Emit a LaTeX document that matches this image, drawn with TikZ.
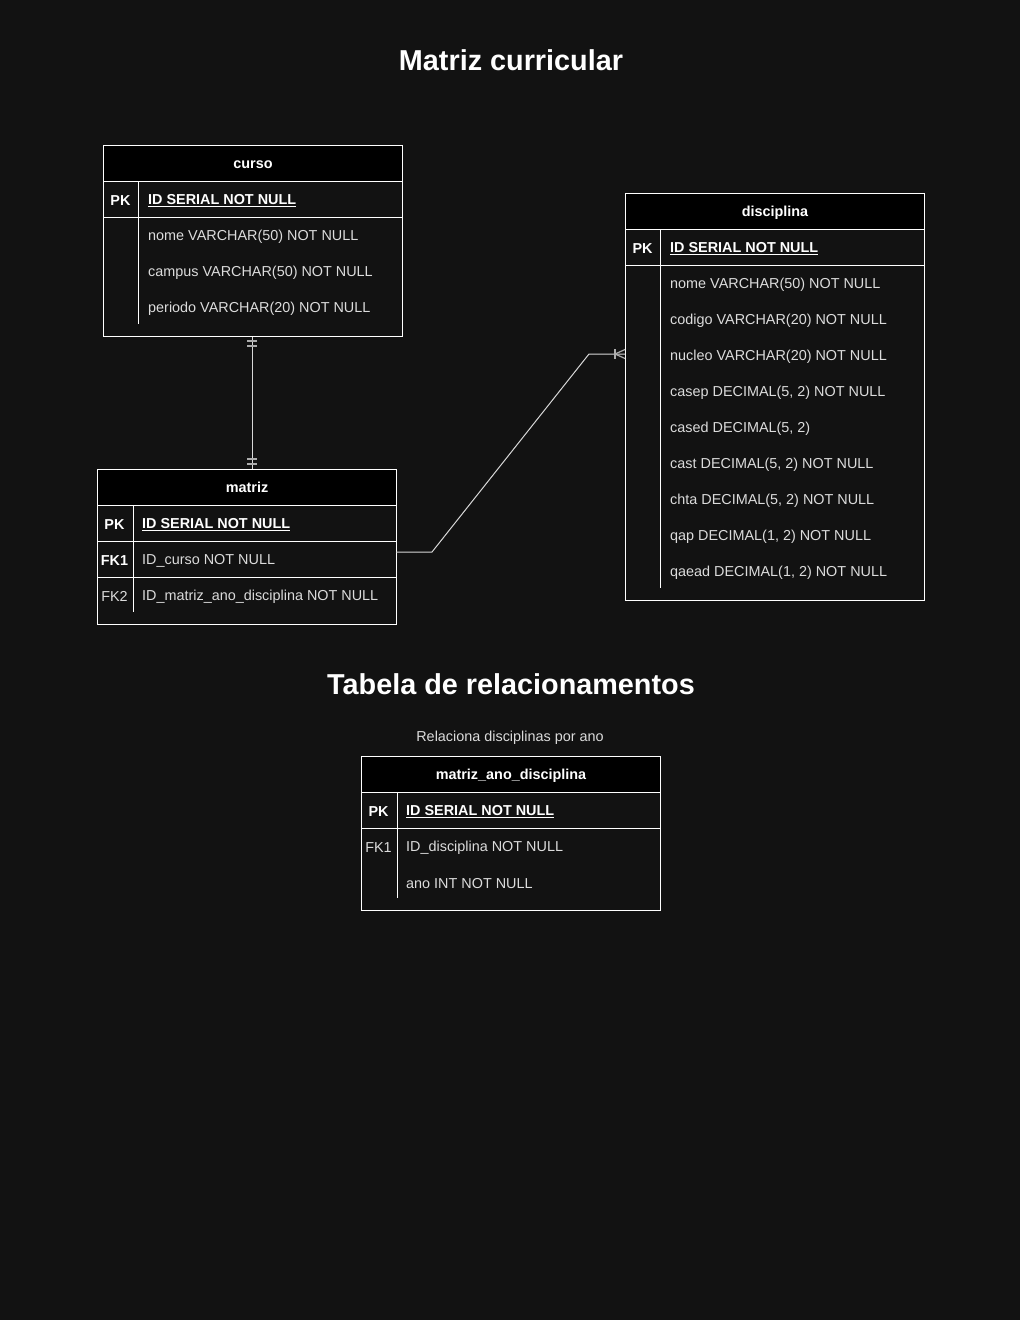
\documentclass[tikz,border=0pt]{standalone}
\usepackage{fontspec}
\setmainfont{Liberation Sans}
\definecolor{bg}{HTML}{121212}
\definecolor{txt}{HTML}{DCDCDC}
\definecolor{conn}{HTML}{D8D8D8}
\begin{document}
\begin{tikzpicture}[x=1pt,y=-1pt,
  frame/.style={draw=white, line width=1pt, inner sep=0pt, minimum width=299pt, anchor=north west},
  hdr/.style={draw=white, line width=1pt, fill=black, text=white, font=\bfseries\fontsize{14.4}{16}\selectfont, minimum width=299pt, minimum height=36pt, anchor=north west, inner sep=0pt, text depth=0pt, text height=10.5pt},
  cell/.style={anchor=west, text=txt, font=\fontsize{14.4}{16}\selectfont, inner sep=0pt, yshift=-1.8pt},
  pkcell/.style={cell, text=white, font=\bfseries\fontsize{14.4}{16}\selectfont},
  keyb/.style={anchor=center, text=white, font=\bfseries\fontsize{14.4}{16}\selectfont, inner sep=0pt, yshift=-1.5pt},
  keyn/.style={anchor=center, text=txt, font=\fontsize{14.4}{16}\selectfont, inner sep=0pt, yshift=-1.5pt},
  sep/.style={draw=white, line width=1pt},
  title/.style={text=white, font=\bfseries\fontsize{28.8}{32}\selectfont, inner sep=0pt},
  link/.style={draw=conn, line width=1pt},
  ermark/.style={draw=conn!80!black, line width=1.2pt}
]
\fill[bg] (0,0) rectangle (1020,1320);
\useasboundingbox (0,0) rectangle (1020,1320);

\node[title] (t1) at (511,60) {Matriz curricular};
\node[title] (t2) at (511,684) {Tabela de relacionamentos};

% curso
\node[frame, minimum height=191pt] (curso) at (103,145) {};
\node[hdr] (cursoH) at (103,145) {curso};
\draw[sep] (103,217) -- (402,217);
\draw[sep] (138,181) -- (138,324);
\node[keyb] (cursoPK) at (120.5,199) {PK};
\node[pkcell] (cursoID) at (148,199) {\underline{ID SERIAL NOT NULL}};
\node[cell] (cursoR1) at (148,235) {nome VARCHAR(50) NOT NULL};
\node[cell] (cursoR2) at (148,271) {campus VARCHAR(50) NOT NULL};
\node[cell] (cursoR3) at (148,307) {periodo VARCHAR(20) NOT NULL};

% matriz
\node[frame, minimum height=155pt] (matriz) at (97,469) {};
\node[hdr] (matrizH) at (97,469) {matriz};
\draw[sep] (97,541) -- (396,541);
\draw[sep] (97,577) -- (396,577);
\draw[sep] (133,505) -- (133,612);
\node[keyb] (matrizPK) at (114.5,523) {PK};
\node[keyb] (matrizFK1) at (114.5,559) {FK1};
\node[keyn] (matrizFK2) at (114.5,595) {FK2};
\node[pkcell] (matrizID) at (142,523) {\underline{ID SERIAL NOT NULL}};
\node[cell] (matrizR1) at (142,559) {ID\_curso NOT NULL};
\node[cell] (matrizR2) at (142,595) {ID\_matriz\_ano\_disciplina NOT NULL};

% disciplina
\node[frame, minimum height=407pt] (disc) at (625,193) {};
\node[hdr] (discH) at (625,193) {disciplina};
\draw[sep] (625,265) -- (924,265);
\draw[sep] (660,229) -- (660,588);
\node[keyb] (discPK) at (642.5,247) {PK};
\node[pkcell] (discID) at (670,247) {\underline{ID SERIAL NOT NULL}};
\node[cell] (d1) at (670,283) {nome VARCHAR(50) NOT NULL};
\node[cell] (d2) at (670,319) {codigo VARCHAR(20) NOT NULL};
\node[cell] (d3) at (670,355) {nucleo VARCHAR(20) NOT NULL};
\node[cell] (d4) at (670,391) {casep DECIMAL(5, 2) NOT NULL};
\node[cell] (d5) at (670,427) {cased DECIMAL(5, 2)};
\node[cell] (d6) at (670,463) {cast DECIMAL(5, 2) NOT NULL};
\node[cell] (d7) at (670,499) {chta DECIMAL(5, 2) NOT NULL};
\node[cell] (d8) at (670,535) {qap DECIMAL(1, 2) NOT NULL};
\node[cell] (d9) at (670,571) {qaead DECIMAL(1, 2) NOT NULL};

% matriz_ano_disciplina
\node[text=txt, font=\fontsize{14.4}{16}\selectfont, inner sep=0pt] (madL) at (510,738) {Relaciona disciplinas por ano};
\node[frame, minimum height=154pt] (mad) at (361,756) {};
\node[hdr] (madH) at (361,756) {matriz\_ano\_disciplina};
\draw[sep] (361,828) -- (660,828);
\draw[sep] (397,792) -- (397,898);
\node[keyb] (madPK) at (378.5,810) {PK};
\node[keyn] (madFK1) at (378.5,846) {FK1};
\node[pkcell] (madID) at (406,810) {\underline{ID SERIAL NOT NULL}};
\node[cell] (madR1) at (406,846) {ID\_disciplina NOT NULL};
\node[cell] (madR2) at (406,882) {ano INT NOT NULL};

% connector curso -- matriz
\draw[link] (curso.south -| 252,0) -- (matriz.north -| 252,0);
\draw[ermark] (247,341) -- (257,341) (247,346) -- (257,346);
\draw[ermark] (247,459) -- (257,459) (247,464) -- (257,464);

% connector matriz -- disciplina
\coordinate (mA) at (396,552);
\coordinate (dA) at (625,354);
\draw[link] (mA) -- (432,552) -- (589,354) -- (dA);
\draw[ermark] (615,349) -- (615,359);
\draw[ermark] (dA |- 0,349.5) -- (615,354) -- (dA |- 0,358.5);
\end{tikzpicture}
\end{document}
